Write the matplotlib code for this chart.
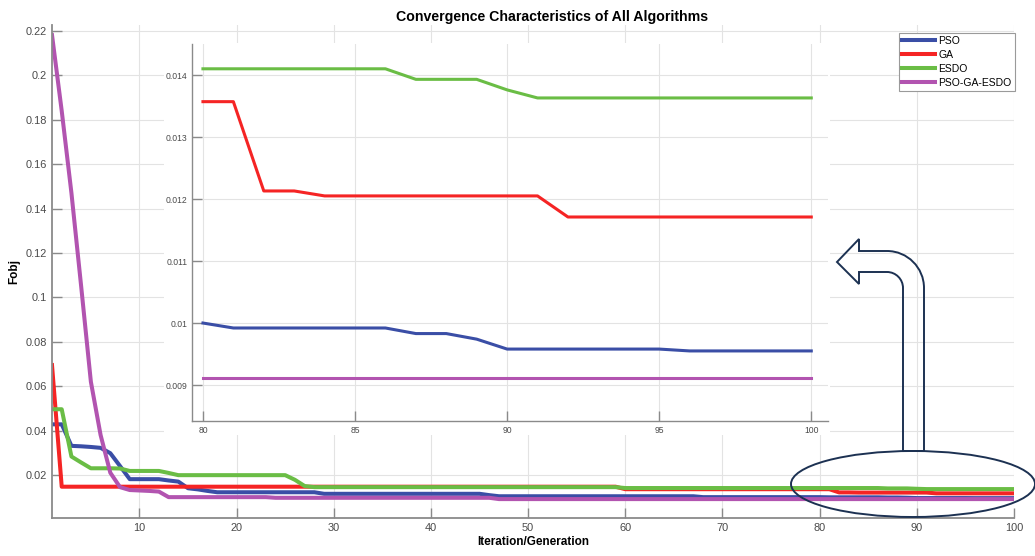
import matplotlib
matplotlib.use("Agg")
import numpy as np
import matplotlib.pyplot as plt
from matplotlib.patches import Ellipse, Rectangle, PathPatch
from matplotlib.path import Path
from matplotlib.ticker import FuncFormatter

plt.rcParams['font.family'] = ['Liberation Sans', 'DejaVu Sans']

# best objective value per iteration (1..100)
iterations = list(range(1, 101))

pso = [0.0428, 0.0428, 0.0331, 0.0329, 0.0326, 0.0322, 0.0298, 0.0240, 0.0181, 0.0181,
       0.0181, 0.0181, 0.0175, 0.0170, 0.0140, 0.0135, 0.0128, 0.0122, 0.0122, 0.0122,
       0.0122, 0.0122, 0.0122, 0.0122, 0.0122, 0.0122, 0.0122, 0.0122, 0.0115, 0.0115,
       0.0115, 0.0115, 0.0115, 0.0115, 0.0115, 0.0115, 0.0115, 0.0115, 0.0115, 0.0115,
       0.0115, 0.0115, 0.0115, 0.0115, 0.0115, 0.0109, 0.0104, 0.0104, 0.0104, 0.0104,
       0.0104, 0.0104, 0.0104, 0.0104, 0.0104, 0.0104, 0.0104, 0.0104, 0.0104, 0.0104,
       0.0104, 0.0104, 0.0104, 0.0104, 0.0104, 0.0104, 0.0104, 0.0100, 0.0100, 0.0100,
       0.0100, 0.0100, 0.0100, 0.0100, 0.0100, 0.0100, 0.0100, 0.0100, 0.0100, 0.0100,
       0.00992, 0.00992, 0.00992, 0.00992, 0.00992, 0.00992, 0.00983, 0.00983, 0.00974, 0.00958,
       0.00958, 0.00958, 0.00958, 0.00958, 0.00958, 0.00955, 0.00955, 0.00955, 0.00955, 0.00955]

ga = [0.0695, 0.0147, 0.0147, 0.0147, 0.0147, 0.0147, 0.0147, 0.0147, 0.0147, 0.0147,
      0.0147, 0.0147, 0.0147, 0.0147, 0.0147, 0.0147, 0.0147, 0.0147, 0.0147, 0.0147,
      0.0147, 0.0147, 0.0147, 0.0147, 0.0147, 0.0147, 0.0147, 0.0147, 0.0147, 0.0147,
      0.0147, 0.0147, 0.0147, 0.0147, 0.0147, 0.0147, 0.0147, 0.0147, 0.0147, 0.0147,
      0.0147, 0.0147, 0.0147, 0.0147, 0.0147, 0.0147, 0.0147, 0.0147, 0.0147, 0.0147,
      0.0147, 0.0147, 0.0147, 0.0147, 0.0147, 0.0147, 0.0147, 0.0147, 0.0147, 0.01357,
      0.01357, 0.01357, 0.01357, 0.01357, 0.01357, 0.01357, 0.01357, 0.01357, 0.01357, 0.01357,
      0.01357, 0.01357, 0.01357, 0.01357, 0.01357, 0.01357, 0.01357, 0.01357, 0.01357, 0.01357,
      0.01357, 0.01213, 0.01213, 0.01205, 0.01205, 0.01205, 0.01205, 0.01205, 0.01205, 0.01205,
      0.01205, 0.01171, 0.01171, 0.01171, 0.01171, 0.01171, 0.01171, 0.01171, 0.01171, 0.01171]

esdo = [0.0496, 0.0496, 0.0283, 0.0256, 0.0230, 0.0230, 0.0230, 0.0229, 0.0218, 0.0218,
        0.0218, 0.0218, 0.0209, 0.0199, 0.0199, 0.0199, 0.0199, 0.0199, 0.0199, 0.0199,
        0.0199, 0.0199, 0.0199, 0.0199, 0.0199, 0.0178, 0.0150, 0.0145, 0.0145, 0.0145,
        0.0145, 0.0145, 0.0145, 0.0145, 0.0145, 0.0145, 0.0145, 0.0145, 0.0145, 0.0145,
        0.0145, 0.0145, 0.0145, 0.0145, 0.0145, 0.0145, 0.0145, 0.0145, 0.0145, 0.0145,
        0.0145, 0.0145, 0.0145, 0.0145, 0.0145, 0.0145, 0.0145, 0.0145, 0.0145, 0.0141,
        0.0141, 0.0141, 0.0141, 0.0141, 0.0141, 0.0141, 0.0141, 0.0141, 0.0141, 0.0141,
        0.0141, 0.0141, 0.0141, 0.0141, 0.0141, 0.0141, 0.0141, 0.0141, 0.0141, 0.0141,
        0.0141, 0.0141, 0.0141, 0.0141, 0.0141, 0.0141, 0.01393, 0.01393, 0.01393, 0.01376,
        0.01363, 0.01363, 0.01363, 0.01363, 0.01363, 0.01363, 0.01363, 0.01363, 0.01363, 0.01363]

hybrid = [0.2182, 0.1840, 0.1470, 0.1050, 0.0620, 0.0380, 0.0210, 0.0145, 0.0132, 0.0130,
          0.0128, 0.0125, 0.0100, 0.0100, 0.0100, 0.0100, 0.0100, 0.0100, 0.0100, 0.0100,
          0.0100, 0.0100, 0.0100, 0.0097, 0.0097, 0.0097, 0.0097, 0.0097, 0.0097, 0.0097,
          0.0097, 0.0097, 0.0097, 0.0097, 0.0097, 0.0097, 0.0097, 0.0097, 0.0097, 0.0097,
          0.0097, 0.0097, 0.0097, 0.0097, 0.0097, 0.0097, 0.00912, 0.00912, 0.00912, 0.00912,
          0.00912, 0.00912, 0.00912, 0.00912, 0.00912, 0.00912, 0.00912, 0.00912, 0.00912, 0.00912,
          0.00912, 0.00912, 0.00912, 0.00912, 0.00912, 0.00912, 0.00912, 0.00912, 0.00912, 0.00912,
          0.00912, 0.00912, 0.00912, 0.00912, 0.00912, 0.00912, 0.00912, 0.00912, 0.00912, 0.00912,
          0.00912, 0.00912, 0.00912, 0.00912, 0.00912, 0.00912, 0.00912, 0.00912, 0.00912, 0.00912,
          0.00912, 0.00912, 0.00912, 0.00912, 0.00912, 0.00912, 0.00912, 0.00912, 0.00912, 0.00912]

labels = ['PSO', 'GA', 'ESDO', 'PSO-GA-ESDO']
colors = ['#3a4ea6', '#f52424', '#6abd45', '#b254b0']

main_yticks = [0.02, 0.04, 0.06, 0.08, 0.1, 0.12, 0.14, 0.16, 0.18, 0.2, 0.22]
main_xticks = [10, 20, 30, 40, 50, 60, 70, 80, 90, 100]
zoom_yticks = [0.009, 0.010, 0.011, 0.012, 0.013, 0.014]
zoom_xticks = [80, 85, 90, 95, 100]
zoom_start = 80

W, H = 1035, 556
AXIS_GRAY = '#8a8a8a'
TICK_TEXT = '#4a4a4a'


def px(x, y):
    """pixel position (top-left origin) -> figure fraction"""
    return x / W, 1 - y / H


def style_axes(ax, fs):
    for s in ('top', 'right'):
        ax.spines[s].set_visible(False)
    for s in ('left', 'bottom'):
        ax.spines[s].set_color(AXIS_GRAY)
        ax.spines[s].set_linewidth(1.3)
    ax.tick_params(direction='in', length=7, width=1.0, color=AXIS_GRAY,
                   labelcolor=TICK_TEXT, labelsize=fs)
    ax.grid(True, color='#e3e3e3', linewidth=0.8)
    ax.set_axisbelow(True)
    ax.yaxis.set_major_formatter(FuncFormatter(lambda v, _: f'{v:g}'))


fig = plt.figure(figsize=(W / 100, H / 100), dpi=100)

# main convergence plot
ax = fig.add_axes([52 / W, 38 / H, 962 / W, 493 / H])
ax.set_zorder(0)
for series, lab, col in zip([pso, ga, esdo, hybrid], labels, colors):
    ax.plot(iterations, series, color=col, linewidth=2.9, label=lab)
ax.set_xlim(1, 100)
ax.set_ylim(0.0006, 0.2227)
ax.set_xticks(main_xticks)
ax.set_yticks(main_yticks)
style_axes(ax, 7.9)
ax.set_title('Convergence Characteristics of All Algorithms', fontsize=10.2,
             fontweight='bold', pad=3, x=0.52)
ax.set_xlabel('Iteration/Generation', fontsize=8.5, fontweight='bold', labelpad=2)
ax.set_ylabel('Fobj', fontsize=8.5, fontweight='bold', labelpad=4)

leg = ax.legend(loc='upper right', bbox_to_anchor=(1.001, 0.984), borderaxespad=0,
                fontsize=7.5, handlelength=3.2, handletextpad=0.3,
                labelspacing=0.38, borderpad=0.3, fancybox=False, framealpha=1)
leg.get_frame().set_edgecolor('#9a9a9a')
leg.get_frame().set_linewidth(0.8)

# white backing behind the zoomed view
x0, y0 = px(164, 435)
fig.add_artist(Rectangle((x0, y0), 666 / W, 392 / H, transform=fig.transFigure,
                         facecolor='white', edgecolor='none', zorder=1))

# zoomed view of the last 20 iterations
axz = fig.add_axes([192 / W, (H - 421) / H, 636 / W, 377 / H])
axz.set_zorder(2)
k = zoom_start - 1
for series, col in zip([pso, ga, esdo, hybrid], colors):
    axz.plot(iterations[k:], series[k:], color=col, linewidth=2.2)
axz.set_xlim(79.64, 100.55)
axz.set_ylim(0.00842, 0.0145)
axz.set_xticks(zoom_xticks)
axz.set_yticks(zoom_yticks)
style_axes(axz, 6.2)
axz.spines['left'].set_linewidth(1.0)
axz.spines['bottom'].set_linewidth(1.0)

# ellipse around the tail of the curves
navy = '#1c3152'
cx, cy = px(913, 484)
fig.add_artist(Ellipse((cx, cy), 244 / W, 66 / H, transform=fig.transFigure,
                       fill=False, edgecolor=navy, linewidth=1.4, zorder=5))

# bent outline arrow pointing back to the zoomed view
pts = [(837, 262), (859, 239), (859, 251), (887, 251),
       (907.4, 251), (924, 267.6), (924, 288),
       (924, 451), (903, 451), (903, 288),
       (903, 279.2), (895.8, 272), (887, 272),
       (859, 272), (859, 284), (837, 262)]
codes = [Path.MOVETO, Path.LINETO, Path.LINETO, Path.LINETO,
         Path.CURVE4, Path.CURVE4, Path.CURVE4,
         Path.LINETO, Path.LINETO, Path.LINETO,
         Path.CURVE4, Path.CURVE4, Path.CURVE4,
         Path.LINETO, Path.LINETO, Path.CLOSEPOLY]
arrow = Path([px(x, y) for x, y in pts], codes)
fig.add_artist(PathPatch(arrow, transform=fig.transFigure, fill=False,
                         edgecolor=navy, linewidth=1.4, zorder=5))

fig.savefig('out.png', dpi=100)
